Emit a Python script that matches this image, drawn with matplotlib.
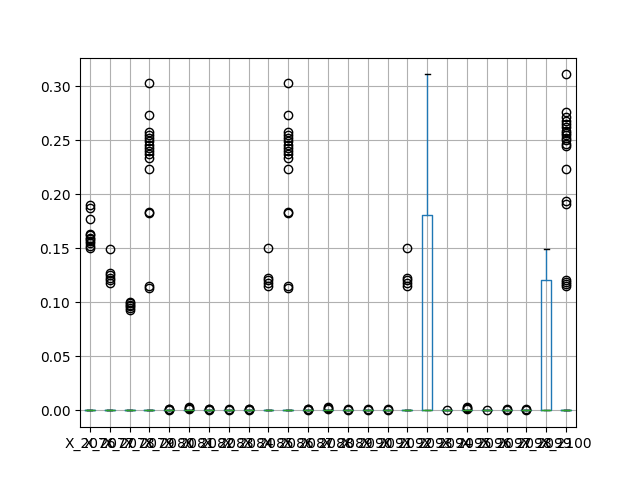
import matplotlib
matplotlib.use("Agg")
import matplotlib.pyplot as plt
import pandas as pd

# years of the columns
years = list(range(2076, 2101))
n_zero = 100

# nonzero values per column (the rest of each column is zeros)
v2076 = [0.190, 0.187, 0.177, 0.163, 0.162, 0.160, 0.159, 0.157, 0.155, 0.152, 0.150]
v2077 = [0.149, 0.127, 0.125, 0.123, 0.121, 0.118]
v2078 = [0.100, 0.099, 0.098, 0.097, 0.095, 0.093]
v2079 = [0.303, 0.273, 0.258, 0.255, 0.252, 0.249, 0.246, 0.243, 0.240, 0.237, 0.234,
         0.223, 0.184, 0.183, 0.115, 0.113]
v2080 = [0.0005, 0.001, 0.0015]
v2081 = [0.001, 0.002, 0.003]
v2082 = [0.0005, 0.001, 0.0015]
v2083 = [0.0005, 0.001]
v2084 = [0.0005, 0.001, 0.0015]
v2085 = [0.150, 0.123, 0.121, 0.118, 0.115]
v2086 = [0.303, 0.273, 0.258, 0.255, 0.252, 0.249, 0.246, 0.243, 0.240, 0.237, 0.234,
         0.223, 0.184, 0.183, 0.115, 0.113]
v2087 = [0.0005, 0.001, 0.0015]
v2088 = [0.001, 0.002, 0.003]
v2089 = [0.0005, 0.001]
v2090 = [0.0005, 0.001]
v2091 = [0.0005, 0.001]
v2092 = [0.150, 0.123, 0.121, 0.118, 0.115]
v2093 = [0.0, 0.0, 0.0, 0.0, 0.0, 0.0, 0.0, 0.09, 0.181, 0.181, 0.25, 0.311]
v2094 = [0.0005]
v2095 = [0.001, 0.002, 0.003]
v2096 = [0.0003]
v2097 = [0.0005, 0.001]
v2098 = [0.0005, 0.001]
v2099 = [0.0, 0.0, 0.0, 0.0, 0.0, 0.0, 0.0, 0.06, 0.121, 0.121, 0.135, 0.149]
v2100 = [0.311, 0.276, 0.272, 0.268, 0.265, 0.262, 0.259, 0.257, 0.255, 0.252, 0.250,
         0.247, 0.245, 0.2235, 0.1937, 0.1915, 0.121, 0.119, 0.117, 0.115]

cols = [v2076, v2077, v2078, v2079, v2080, v2081, v2082, v2083, v2084, v2085,
        v2086, v2087, v2088, v2089, v2090, v2091, v2092, v2093, v2094, v2095,
        v2096, v2097, v2098, v2099, v2100]

data = {}
for y, v in zip(years, cols):
    if y in (2093, 2099):
        data["X_" + str(y)] = pd.Series(v)
    else:
        data["X_" + str(y)] = pd.Series([0.0] * n_zero + v)
df = pd.DataFrame(data)

fig = plt.figure(figsize=(6.4, 4.8), dpi=100)
ax = fig.gca()
df.boxplot(ax=ax)
fig.savefig("out.png")
